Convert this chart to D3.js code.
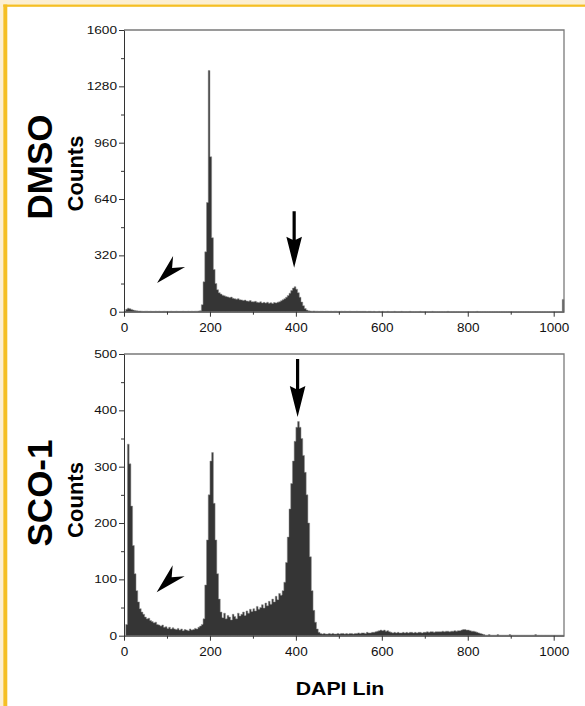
<!DOCTYPE html>
<html lang="en">
<head>
<meta charset="utf-8">
<title>DAPI histograms</title>
<script src="https://d3js.org/d3.v7.min.js"></script>
<style>
  body { margin: 0; background: #fff; }
  svg { display: block; font-family: "Liberation Sans", Arial, Helvetica, sans-serif; }
</style>
</head>
<body>
<svg id="chart"></svg>
<script>

// ************************************************************ //
// Data (counts per 4-channel bin, channels 0..1024)

var binWidth = 4;
var channelMax = 1024;

var dmsoCounts = [
  4,14,20,17,13,9,7,5,4,4,
  3,2,3,3,2,3,2,2,3,2, 3,2,2,3,2,2,2,3,2,2, 3,2,2,2,3,2,2,3,2,3, 2,3,3,4,
  6,40,170,340,620,1370,880,420,240,160,
  125,108,100,94,90,86,84,80,83,76,
  74,71,74,68,67,64,66,61,60,63,
  57,56,59,54,52,56,50,53,49,54,
  48,51,47,52,50,54,56,62,68,74,
  82,92,105,120,134,142,128,108,82,55,
  34,18,9,5,4,
  3,4,3,3,2,3,3,2,3,3, 2,3,2,3,3,2,2,3,2,3, 2,2,3,2,2,2,3,2,2,2, 2,
  2,1,2,2,1,2,1,1,2,1, 2,1,1,2,1,1,1,2,1,1, 1,2,1,1,1,1,2,1,1,1,
  1,1,2,1,1,1,1,1,1,2, 1,1,1,1,1,1,1,1,2,1, 1,1,1,1,1,1,1,1,1,1,
  1,1,1,1,1,2,1,1,1,1, 1,1,1,1,1,1,1,1,1,1, 1,1,1,1,1,1,1,1,1,1,
  1,1,1,1,1,1,1,1,1,1, 1,1,1,1,1,1,1,1,1,1, 1,1,1,1,1,
  70
];

var sco1Counts = [
  0,20,340,305,230,160,110,80,60,48,
  42,38,33,30,31,27,25,23,24,20,
  19,17,19,15,16,13,15,12,14,12,
  11,13,10,12,9,11,10,9,12,10,
  11,13,12,15,17,20,30,90,170,250,
  310,325,235,170,110,65,42,32,40,30,
  36,33,28,38,34,30,40,35,38,42,
  36,44,40,47,43,48,44,52,47,50,
  55,49,58,53,61,56,65,60,70,64,
  75,72,80,95,130,175,225,270,310,345,
  370,380,370,350,320,290,250,200,140,80,
  45,24,12,6,4,
  3,4,3,3,4,3,4,3,3,4, 3,4,4,3,4,3,4,4,3,4,
  4,5,4,5,5,4,6,5,5,6,6,7,
  8,9,10,9,10,8,9,7,
  6,5,6,5,6,5,5,6,5,6, 5,6,6,5,6,5,6,6,5,6,
  6,7,6,7,7,6,7,7,7,7, 8,7,8,8,7,8,8,9,8,9,
  9,10,11,11,10,10,9,8,
  8,7,6,5,4,3,2,
  1,1,2,1,1,1,1,2,1,1, 1,1,1,1,2,1,1,1,1,1, 1,1,1,1,1,1,1,1,1,2,
  1,1,1,1,1,1,1,1,1,1, 1,1,1,1,1,1
];

var xTicks = [0, 200, 400, 600, 800, 1000];
var xMinorTicks = [100, 300, 500, 700, 900];
var dmsoYTicks = [0, 320, 640, 960, 1280, 1600];
var dmsoYMinor = [160, 480, 800, 1120, 1440];
var sco1YTicks = [0, 100, 200, 300, 400, 500];
var sco1YMinor = [50, 150, 250, 350, 450];
var panelNames = ["DMSO", "SCO-1"];
var yTitle = "Counts";
var xTitle = "DAPI Lin";

// annotations in data units: down arrow (channel, shaft top, tip) and arrowhead tip
var arrowMarks = [ {ch: 396, top: 571, tip: 250}, {ch: 404, top: 491, tip: 388} ];
var chevronMarks = [ {ch: 77, count: 163}, {ch: 76, count: 77} ];

// ************************************************************ //
// Layout

var width = 585, height = 706;
var svg = d3.select("#chart").attr("width", width).attr("height", height);

svg.append("rect").attr("width", width).attr("height", height).attr("fill", "#fff");
// cream + yellow frame
svg.append("rect").attr("x", 0).attr("y", 0).attr("width", width).attr("height", 4.5).attr("fill", "#fcefd2");
svg.append("rect").attr("x", 0).attr("y", 0).attr("width", 3.3).attr("height", height).attr("fill", "#fcefd2");
svg.append("rect").attr("x", 3.3).attr("y", 4.5).attr("width", width).attr("height", 2.3).attr("fill", "#f5bf24");
svg.append("rect").attr("x", 3.3).attr("y", 4.5).attr("width", 4).attr("height", height).attr("fill", "#f5bf24");

var panels = [
  { name: panelNames[0], counts: dmsoCounts, yMax: 1600, ticks: dmsoYTicks, minor: dmsoYMinor, top: 30, bottom: 311.7,
    nameY: 167, countsY: 173.5, arrow: arrowMarks[0], chevron: chevronMarks[0] },
  { name: panelNames[1], counts: sco1Counts, yMax: 500, ticks: sco1YTicks, minor: sco1YMinor, top: 354, bottom: 635.7,
    nameY: 493, countsY: 500, arrow: arrowMarks[1], chevron: chevronMarks[1] }
];

var x = d3.scaleLinear().domain([0, channelMax]).range([124, 564]);

panels.forEach(function(p){
  var y = d3.scaleLinear().domain([0, p.yMax]).range([p.bottom, p.top]);
  var g = svg.append("g");

  // histogram
  var bins = p.counts.map(function(c, i){ return { x0: i * binWidth, c: c }; });
  bins.push({ x0: p.counts.length * binWidth, c: p.counts[p.counts.length - 1] });
  var area = d3.area().curve(d3.curveStepAfter)
    .x(function(d){ return x(d.x0); })
    .y0(y(0))
    .y1(function(d){ return y(Math.min(d.c, p.yMax)); });
  g.append("path").datum(bins).attr("d", area)
    .attr("fill", "#353535").attr("stroke", "#8c8c8c").attr("stroke-width", 0.5);

  // box: top and right lighter
  g.append("path")
    .attr("d", "M" + x(0) + "," + p.top + "H" + x(channelMax) + "V" + p.bottom)
    .attr("fill", "none").attr("stroke", "#7a7a7a").attr("stroke-width", 1.3);

  // y axis
  var yAxis = g.append("g").attr("transform", "translate(" + x(0) + ",0)").attr("color", "#333")
    .call(d3.axisLeft(y).tickValues(p.ticks).tickSize(5).tickSizeOuter(0).tickFormat(d3.format("d")));
  yAxis.selectAll("text").attr("x", -5.4).attr("transform", "scale(1.3,1)")
    .style("font-size", "10.5px").attr("fill", "#111");
  var yMinor = g.append("g").attr("transform", "translate(" + x(0) + ",0)").attr("color", "#333")
    .call(d3.axisLeft(y).tickValues(p.minor).tickSize(3).tickFormat(""));
  yMinor.select(".domain").remove();

  // x axis
  var xAxis = g.append("g").attr("transform", "translate(0," + p.bottom + ")").attr("color", "#333")
    .call(d3.axisBottom(x).tickValues(xTicks).tickSize(5).tickSizeOuter(0).tickFormat(d3.format("d")));
  xAxis.selectAll("text").attr("y", 20).attr("dy", 0).style("font-size", "13.5px").attr("fill", "#111");
  var xMinor = g.append("g").attr("transform", "translate(0," + p.bottom + ")").attr("color", "#333")
    .call(d3.axisBottom(x).tickValues(xMinorTicks).tickSize(3).tickFormat(""));
  xMinor.select(".domain").remove();

  // titles
  svg.append("text").attr("transform", "translate(51.5," + p.nameY + ") rotate(-90)")
    .attr("text-anchor", "middle").style("font-size", "35px").style("font-weight", "bold")
    .attr("fill", "#000").text(p.name);
  svg.append("text").attr("transform", "translate(82.5," + p.countsY + ") rotate(-90)")
    .attr("text-anchor", "middle").style("font-size", "22px").style("font-weight", "bold")
    .attr("fill", "#000").text(yTitle);

  // down arrow
  var ax = x(p.arrow.ch), aTop = y(p.arrow.top), aTip = y(p.arrow.tip);
  var headH = 31, headW = 7.8, sw = 1.6;
  var hy = aTip - headH;
  g.append("path")
    .attr("d", "M" + (ax - sw) + "," + aTop + "H" + (ax + sw) + "V" + (hy + 3) +
      "L" + (ax + headW) + "," + hy + "L" + ax + "," + aTip + "L" + (ax - headW) + "," + hy +
      "L" + (ax - sw) + "," + (hy + 3) + "Z")
    .attr("fill", "#000");

  // arrowhead pointing lower-left
  var cx = x(p.chevron.ch), cy = y(p.chevron.count);
  g.append("path")
    .attr("d", "M" + cx + "," + cy + "L" + (cx + 16) + "," + (cy - 27) + "L" + (cx + 15) + "," + (cy - 15) +
      "L" + (cx + 28) + "," + (cy - 16) + "Z")
    .attr("fill", "#000");
});

svg.append("text").attr("x", 340).attr("y", 695).attr("text-anchor", "middle")
  .attr("transform", "translate(340,0) scale(1.12,1) translate(-340,0)")
  .style("font-size", "19px").style("font-weight", "bold").attr("fill", "#000").text(xTitle);

</script>
</body>
</html>
